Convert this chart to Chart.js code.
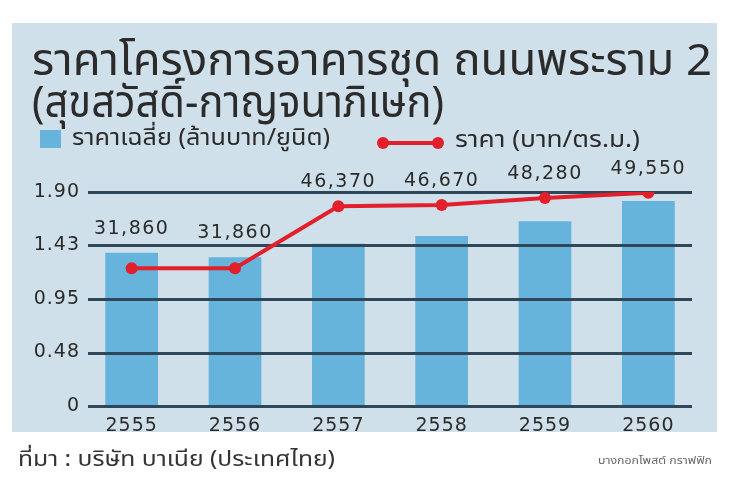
<!DOCTYPE html>
<html><head><meta charset="utf-8">
<script src="https://cdn.jsdelivr.net/npm/chart.js@4"></script>
<style>html,body{margin:0;padding:0;background:#fff}canvas{display:block}</style>
</head><body>
<canvas id="c" width="740" height="493"></canvas>
<script>
const categories = ['2555','2556','2557','2558','2559','2560'];
const unitPrice = [1.36, 1.32, 1.44, 1.51, 1.64, 1.82];
const sqmPrice = [31860, 31860, 46370, 46670, 48280, 49550];
const yTickValues = [0, 0.475, 0.95, 1.425, 1.9];
const yTickLabels = ['0','0.48','0.95','1.43','1.90'];
const titleLines = ['ราคาโครงการอาคารชุด ถนนพระราม 2','(สุขสวัสดิ์-กาญจนาภิเษก)'];
const legendLabels = ['ราคาเฉลี่ย (ล้านบาท/ยูนิต)','ราคา (บาท/ตร.ม.)'];
const sourceText = 'ที่มา : บริษัท บาเนีย (ประเทศไทย)';
const creditText = 'บางกอกโพสต์ กราฟฟิก';

const THAI = "'Noto Sans Thai','Noto Sans Thai Looped','Loma','Garuda','Tlwg Typo','Noto Sans',sans-serif";
const NUM = "'DejaVu Sans',sans-serif";
const BAR = '#66b3dc', RED = '#e21f2b', PANEL = '#cfe0ea', GRID = '#2f4859', TXT = '#2b2b2b';

function drawFit(ctx, text, x, y, size, width) {
  ctx.font = size + 'px ' + THAI;
  const w = ctx.measureText(text).width;
  ctx.save();
  ctx.translate(x, y);
  ctx.scale(width / w, 1);
  ctx.fillText(text, 0, 0);
  ctx.restore();
}

const decor = {
  id: 'decor',
  beforeDraw(chart) {
    const ctx = chart.ctx;
    ctx.save();
    ctx.fillStyle = '#fff'; ctx.fillRect(0, 0, 740, 493);
    ctx.fillStyle = PANEL; ctx.fillRect(12, 23, 705, 409);
    ctx.fillStyle = TXT; ctx.textBaseline = 'alphabetic'; ctx.textAlign = 'left';
    drawFit(ctx, titleLines[0], 32, 75, 44, 680);
    drawFit(ctx, titleLines[1], 32, 117, 44, 412);
    // legend
    ctx.fillStyle = BAR; ctx.fillRect(40, 130, 21, 18);
    ctx.fillStyle = TXT; ctx.textBaseline = 'middle';
    drawFit(ctx, legendLabels[0], 72, 140, 23, 258);
    ctx.strokeStyle = RED; ctx.lineWidth = 4;
    ctx.beginPath(); ctx.moveTo(383, 143); ctx.lineTo(438, 143); ctx.stroke();
    ctx.fillStyle = RED;
    [383, 438].forEach(x => { ctx.beginPath(); ctx.arc(x, 143, 6, 0, Math.PI * 2); ctx.fill(); });
    ctx.fillStyle = TXT;
    drawFit(ctx, legendLabels[1], 455, 142, 23, 185);
    // footer
    ctx.fillStyle = '#333';
    drawFit(ctx, sourceText, 18, 462, 21, 317);
    ctx.fillStyle = '#666';
    drawFit(ctx, creditText, 598, 462, 11, 114);
    ctx.restore();
    ctx.letterSpacing = '1px';
  },
  afterDatasetDraw(chart, args) {
    if (args.index !== 0) return;
    const ctx = chart.ctx, a = chart.chartArea, ys = chart.scales.y;
    ctx.save();
    ctx.strokeStyle = GRID; ctx.lineWidth = 3;
    yTickValues.forEach(v => {
      const y = Math.round(ys.getPixelForValue(v)) + 0.5;
      ctx.beginPath(); ctx.moveTo(a.left + 8, y); ctx.lineTo(a.right - 8, y); ctx.stroke();
    });
    ctx.restore();
  },
  afterDatasetsDraw(chart) {
    const ctx = chart.ctx;
    const bars = chart.getDatasetMeta(0).data, pts = chart.getDatasetMeta(1).data;
    ctx.save();
    ctx.font = '19px ' + NUM; ctx.fillStyle = TXT; ctx.textAlign = 'center'; ctx.textBaseline = 'middle';
    ctx.letterSpacing = '1.5px';
    sqmPrice.forEach((v, i) => {
      const y = Math.min(bars[i].y, pts[i].y) - 24;
      ctx.fillText(v.toLocaleString('en-US'), pts[i].x, y);
    });
    ctx.restore();
  }
};

new Chart(document.getElementById('c'), {
  data: {
    labels: categories,
    datasets: [
      { type: 'bar', label: legendLabels[0], data: unitPrice, yAxisID: 'y', backgroundColor: BAR,
        categoryPercentage: 1, barPercentage: 0.51, order: 2 },
      { type: 'line', label: legendLabels[1], data: sqmPrice, yAxisID: 'y1', borderColor: RED, borderWidth: 4,
        backgroundColor: RED, pointRadius: 6, pointBackgroundColor: RED, pointBorderWidth: 0, tension: 0, order: 1 }
    ]
  },
  options: {
    responsive: false, animation: false, devicePixelRatio: 1,
    layout: { padding: { top: 192, right: 40, bottom: 47, left: 0 } },
    plugins: { legend: { display: false }, title: { display: false }, tooltip: { enabled: false } },
    scales: {
      x: { type: 'category', offset: true, grid: { display: false, drawTicks: false }, border: { display: false },
        ticks: { color: TXT, font: { family: NUM, size: 19 }, padding: 9 },
        afterFit(s) { s.height = 40; } },
      y: { type: 'linear', position: 'left', min: 0, max: 1.9,
        afterBuildTicks(s) { s.ticks = yTickValues.map(v => ({ value: v })); },
        ticks: { color: TXT, font: { family: NUM, size: 19 }, padding: 0, callback: (v, i) => yTickLabels[i] },
        grid: { display: false, drawTicks: false }, border: { display: false },
        afterFit(s) { s.width = 80; } },
      y1: { type: 'linear', display: false, min: -360, max: 49710 }
    }
  },
  plugins: [decor]
});
</script>
</body></html>
